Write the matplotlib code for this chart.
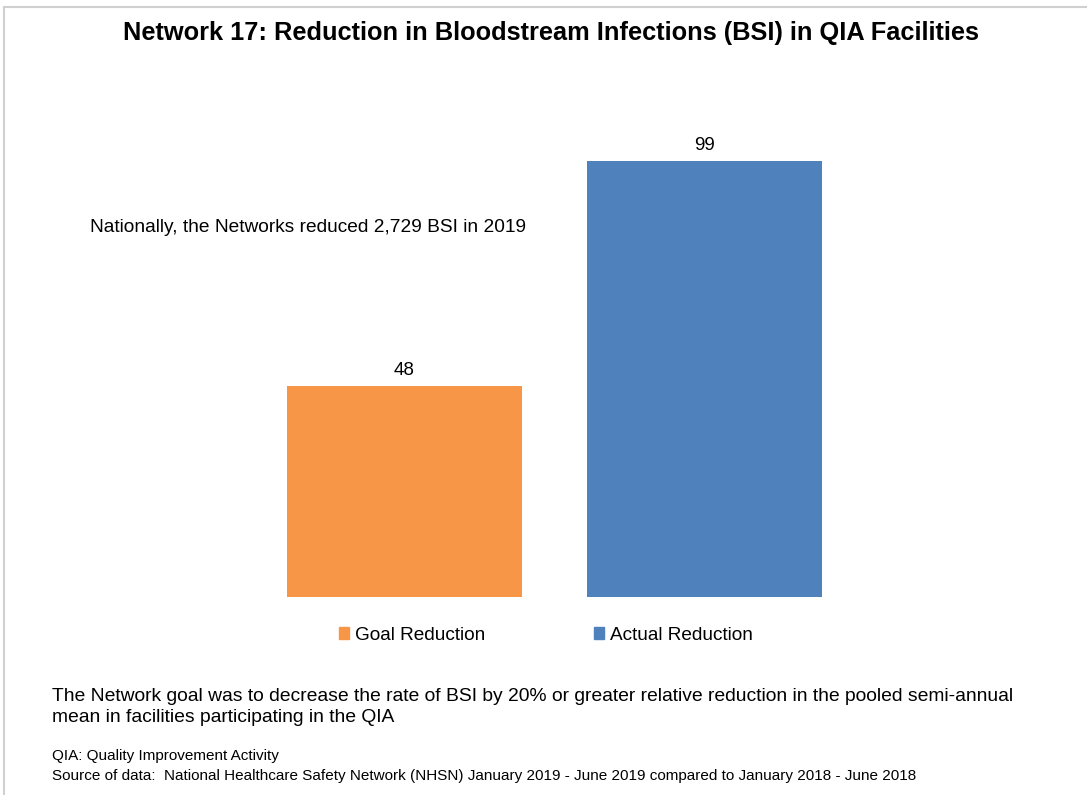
import matplotlib.pyplot as plt
from matplotlib.patches import Patch
from matplotlib.lines import Line2D

categories = ["Goal Reduction", "Actual Reduction"]
values = [48, 99]
colors = ["#F79646", "#4F81BD"]

title = "Network 17: Reduction in Bloodstream Infections (BSI) in QIA Facilities"
note = "Nationally, the Networks reduced 2,729 BSI in 2019"
goal_text = ("The Network goal was to decrease the rate of BSI by 20% or greater relative reduction in the pooled semi-annual\n"
             "mean in facilities participating in the QIA")
footnotes = ["QIA: Quality Improvement Activity",
             "Source of data:  National Healthcare Safety Network (NHSN) January 2019 - June 2019 compared to January 2018 - June 2018"]

W, H = 1087, 795
plt.rcParams['font.family'] = ['Liberation Sans', 'DejaVu Sans']
fig = plt.figure(figsize=(W / 100, H / 100), dpi=100)

# axes placed in pixel terms: x from 254.5 to 854.5, y from 113 to 597
ax = fig.add_axes([254.5 / W, 1 - 597 / H, 600 / W, 484 / H])
x = list(range(len(categories)))
bars = ax.bar(x, values, width=0.783, color=colors)
ax.set_xlim(-0.5, 1.5)
ax.set_ylim(0, 110)
ax.axis('off')
for b, v in zip(bars, values):
    ax.text(b.get_x() + b.get_width() / 2, v + 1.6, str(v), ha='center', va='bottom', fontsize=13.5)

# frame lines
fig.add_artist(Line2D([4 / W, 1], [1 - 7 / H, 1 - 7 / H], color='#d0d0d0', lw=1.5))
fig.add_artist(Line2D([4 / W, 4 / W], [0, 1 - 7 / H], color='#d0d0d0', lw=1.5))

fig.text(551 / W, 1 - 33 / H, title, ha='center', va='center', fontsize=18.3, fontweight='bold')
fig.text(90 / W, 1 - 228 / H, note, ha='left', va='center', fontsize=13.8)

handles = [Patch(color=c) for c in colors]
fig.legend(handles, categories, loc='center', bbox_to_anchor=(546 / W, 1 - 635 / H), ncol=2,
           frameon=False, fontsize=13.7, handlelength=0.55, handleheight=0.55, handletextpad=0.3,
           columnspacing=5.7)

fig.text(52 / W, 1 - 707 / H, goal_text, ha='left', va='center', fontsize=13.85, linespacing=1.32)
fig.text(52 / W, 1 - 756 / H, footnotes[0], ha='left', va='center', fontsize=10.95)
fig.text(52 / W, 1 - 776 / H, footnotes[1], ha='left', va='center', fontsize=10.95)

fig.savefig('out.png', dpi=100, facecolor='white')
